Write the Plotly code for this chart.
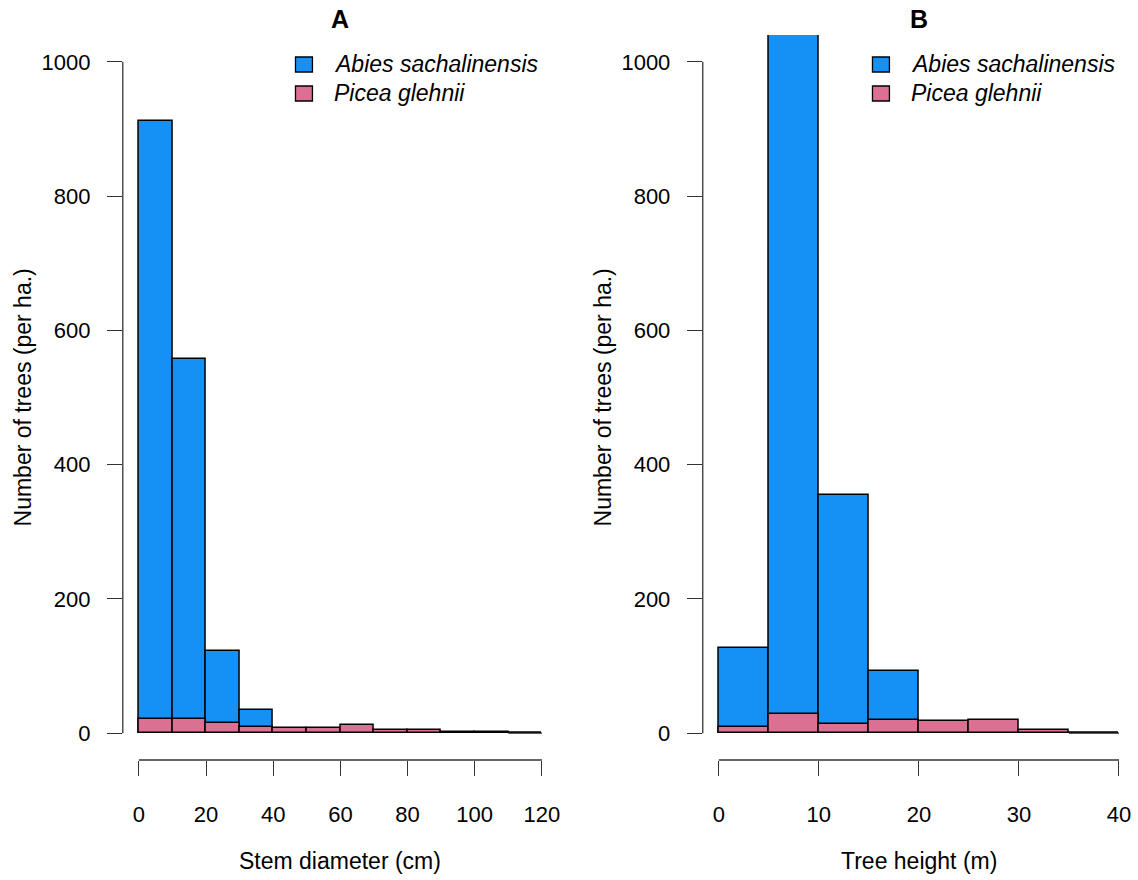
import plotly.graph_objects as go

# ---------------- data ----------------
dbh_edges = [0, 10, 20, 30, 40, 50, 60, 70, 80, 90, 100, 110, 120]
abies_dbh = [912, 557, 122, 34, 0, 0, 0, 0, 0, 0, 0, 0]
picea_dbh = [21, 21, 15, 9, 8, 8, 12, 5, 5, 2, 2, 0]

height_edges = [0, 5, 10, 15, 20, 25, 30, 35, 40]
abies_h = [127, 1050, 355, 92, 0, 0, 0, 0]
picea_h = [9, 28, 14, 19, 18, 20, 4, 0]

species = ["Abies sachalinensis", "Picea glehnii"]
panel_titles = ["A", "B"]
x_titles = ["Stem diameter (cm)", "Tree height (m)"]
y_title = "Number of trees (per ha.)"
y_ticks = [0, 200, 400, 600, 800, 1000]
x_ticks_a = [0, 20, 40, 60, 80, 100, 120]
x_ticks_b = [0, 10, 20, 30, 40]

# ---------------- style ----------------
W, H = 1138, 880
BLUE = "#1591F5"
PINK = "#DB7093"
AX = "#333333"
FONT = "Liberation Sans, Arial, sans-serif"
TICK_SIZE = 22
LAB_SIZE = 23

def px(x):
    return x / W

def py(y):
    return 1 - y / H

dom_a = [px(123), px(559)]
dom_b = [px(704), px(1137)]
dom_y = [py(760), py(35)]

fig = go.Figure()

def add_hist(edges, vals, color, name, xa, ya):
    centers = [(a + b) / 2 for a, b in zip(edges[:-1], edges[1:])]
    widths = [b - a for a, b in zip(edges[:-1], edges[1:])]
    fig.add_trace(go.Bar(
        x=centers, y=vals, width=widths, name=name,
        marker=dict(color=color, line=dict(color="black", width=1.5)),
        xaxis=xa, yaxis=ya, showlegend=False, hoverinfo="x+y",
    ))

def add_zero_lines(edges, v1, v2, xa, ya):
    for i in range(len(edges) - 1):
        if v1[i] == 0 and v2[i] == 0:
            fig.add_trace(go.Scatter(
                x=[edges[i], edges[i + 1]], y=[0, 0], mode="lines",
                line=dict(color="#222222", width=1.1),
                xaxis=xa, yaxis=ya, showlegend=False, hoverinfo="skip",
            ))

add_hist(dbh_edges, abies_dbh, BLUE, species[0], "x", "y")
add_hist(dbh_edges, picea_dbh, PINK, species[1], "x", "y")
add_hist(height_edges, abies_h, BLUE, species[0], "x2", "y2")
add_hist(height_edges, picea_h, PINK, species[1], "x2", "y2")
add_zero_lines(dbh_edges, abies_dbh, picea_dbh, "x", "y")
add_zero_lines(height_edges, abies_h, picea_h, "x2", "y2")

def xr(edges):
    lo, hi = edges[0], edges[-1]
    pad = 0.04 * (hi - lo)
    return [lo - pad, hi + pad]

yr = [y_ticks[0] - 0.04 * (y_ticks[-1] - y_ticks[0]), y_ticks[-1] + 0.04 * (y_ticks[-1] - y_ticks[0])]

axis_common = dict(showgrid=False, zeroline=False, showline=False, ticks="outside",
                   ticklen=15, tickwidth=1.3, tickcolor=AX,
                   tickfont=dict(family=FONT, size=TICK_SIZE, color="black"))

fig.update_layout(
    width=W, height=H, margin=dict(l=0, r=0, t=0, b=0),
    paper_bgcolor="white", plot_bgcolor="white",
    barmode="overlay", bargap=0,
    font=dict(family=FONT, color="black"),
    xaxis=dict(domain=dom_a, range=xr(dbh_edges), tickvals=x_ticks_a, anchor="y",
               ticklabelstandoff=20, **axis_common),
    yaxis=dict(domain=dom_y, range=yr, tickvals=y_ticks, anchor="x",
               ticklabelstandoff=12, **axis_common),
    xaxis2=dict(domain=dom_b, range=xr(height_edges), tickvals=x_ticks_b, anchor="y2",
                ticklabelstandoff=20, **axis_common),
    yaxis2=dict(domain=dom_y, range=yr, tickvals=y_ticks, anchor="x2",
                ticklabelstandoff=12, **axis_common),
)

shapes = []
annotations = []
for xa, ya, edges, xt, dom, title, xtitle in [
    ("x", "y", dbh_edges, x_ticks_a, dom_a, panel_titles[0], x_titles[0]),
    ("x2", "y2", height_edges, x_ticks_b, dom_b, panel_titles[1], x_titles[1]),
]:
    # R-style axis lines spanning only the tick range
    shapes.append(dict(type="line", xref=xa + " domain", yref=ya, x0=0, x1=0,
                       y0=y_ticks[0], y1=y_ticks[-1], line=dict(color=AX, width=1.3)))
    shapes.append(dict(type="line", xref=xa, yref=ya + " domain", x0=xt[0], x1=xt[-1],
                       y0=0, y1=0, line=dict(color=AX, width=1.3)))
    cx = (dom[0] + dom[1]) / 2
    annotations.append(dict(text="<b>%s</b>" % title, x=cx, y=py(19), xref="paper", yref="paper",
                            showarrow=False, xanchor="center", yanchor="middle",
                            font=dict(family=FONT, size=25, color="black")))
    annotations.append(dict(text=xtitle, x=cx, y=py(861), xref="paper", yref="paper",
                            showarrow=False, xanchor="center", yanchor="middle",
                            font=dict(family=FONT, size=LAB_SIZE, color="black")))
    # y title
    left_px = dom[0] * W
    annotations.append(dict(text=y_title, x=px(left_px - 99), y=(dom_y[0] + dom_y[1]) / 2,
                            xref="paper", yref="paper", textangle=-90,
                            showarrow=False, xanchor="center", yanchor="middle",
                            font=dict(family=FONT, size=LAB_SIZE, color="black")))
    # legend
    right_px = dom[1] * W
    sq_x0 = right_px - 263
    for i, (name, col) in enumerate(zip(species, [BLUE, PINK])):
        yc = 64.5 + 29 * i
        shapes.append(dict(type="rect", xref="paper", yref="paper",
                           x0=px(sq_x0), x1=px(sq_x0 + 17), y0=py(yc - 7.5), y1=py(yc + 7.5),
                           fillcolor=col, line=dict(color="black", width=1.3)))
        annotations.append(dict(text="<i>%s</i>" % name, x=px(sq_x0 + 37), y=py(yc),
                                xref="paper", yref="paper", showarrow=False,
                                xanchor="left", yanchor="middle",
                                font=dict(family=FONT, size=LAB_SIZE, color="black")))

fig.update_layout(shapes=shapes, annotations=annotations)
fig.write_html("out.html")
